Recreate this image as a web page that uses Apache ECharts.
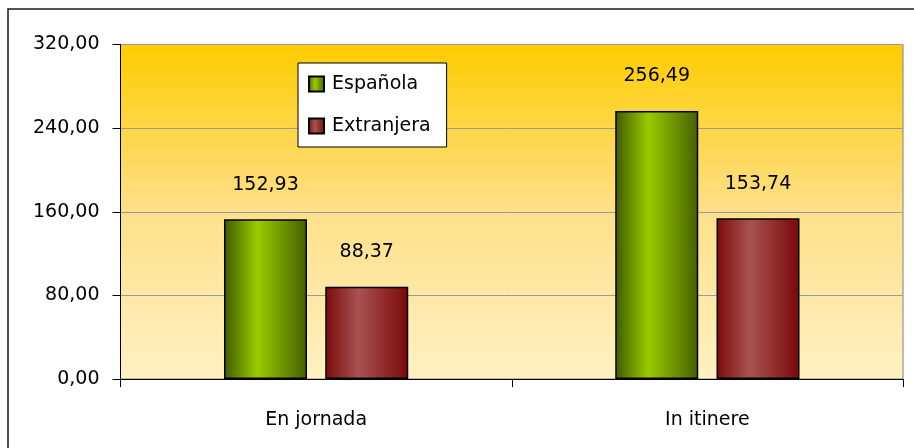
<!DOCTYPE html>
<html>
<head>
<meta charset="utf-8">
<script src="https://cdn.jsdelivr.net/npm/echarts@6/dist/echarts.min.js"></script>
<style>
  html, body { margin: 0; padding: 0; background: #fff; }
  #main { width: 914px; height: 448px; }
</style>
</head>
<body>
<div id="main"></div>
<script>
// datos del grafico
var categorias = ['En jornada', 'In itinere'];
var espanola = [152.93, 256.49];
var extranjera = [88.37, 153.74];
var nombres = ['Española', 'Extranjera'];

var fuente = 'DejaVu Sans';

// coma decimal
function fmt(v) {
  return Number(v).toFixed(2).replace('.', ',');
}

function degradado(borde, centro, borde2) {
  return new echarts.graphic.LinearGradient(0, 0, 1, 0, [
    { offset: 0, color: borde },
    { offset: 0.4, color: centro },
    { offset: 1, color: borde2 }
  ]);
}

var chart = echarts.init(document.getElementById('main'));

var etiqueta = {
  show: true,
  position: 'top',
  distance: 25,
  color: '#000',
  fontFamily: fuente,
  fontSize: 19,
  formatter: function (p) { return fmt(p.value); }
};

chart.setOption({
  animation: false,
  backgroundColor: '#fff',
  graphic: [{
    type: 'rect',
    shape: { x: 8, y: 9, width: 920, height: 460 },
    style: { fill: 'none', stroke: '#1a1a1a', lineWidth: 1.5 },
    z: 100
  }],
  grid: {
    left: 120.5, right: 11, top: 44.5, bottom: 69,
    show: true,
    borderColor: '#808080',
    borderWidth: 1,
    backgroundColor: new echarts.graphic.LinearGradient(0, 0, 0, 1, [
      { offset: 0, color: '#ffcc00' },
      { offset: 0.5, color: '#fee08a' },
      { offset: 1, color: '#fff1c2' }
    ])
  },
  legend: {
    orient: 'vertical',
    left: 298,
    top: 63,
    data: nombres,
    backgroundColor: '#fff',
    borderColor: '#000',
    borderWidth: 1,
    padding: [11, 16, 11, 10],
    itemWidth: 15,
    itemHeight: 15,
    itemGap: 22,
    icon: 'rect',
    textStyle: {
      fontFamily: fuente, fontSize: 19, color: '#000',
      lineHeight: 20, padding: [0, 0, 0, 3]
    }
  },
  xAxis: {
    type: 'category',
    data: categorias,
    axisLine: { lineStyle: { color: '#000', width: 1 } },
    axisTick: { show: true, length: 8, lineStyle: { color: '#000' } },
    axisLabel: { margin: 32, color: '#000', fontFamily: fuente, fontSize: 19 },
    splitLine: { show: false }
  },
  yAxis: {
    type: 'value',
    min: 0, max: 320, interval: 80,
    axisLine: { show: true, lineStyle: { color: '#000', width: 1 } },
    axisTick: { show: true, length: 8, lineStyle: { color: '#000' } },
    axisLabel: {
      margin: 21, color: '#000', fontFamily: fuente, fontSize: 19,
      formatter: function (v) { return fmt(v); }
    },
    splitLine: { show: true, lineStyle: { color: '#9a9a9a', width: 1 } }
  },
  series: [
    {
      name: nombres[0],
      type: 'bar',
      data: espanola,
      barWidth: 83,
      barGap: '22%',
      itemStyle: {
        color: degradado('#3f5a00', '#99cc00', '#455f00'),
        borderColor: '#000',
        borderWidth: 1.5
      },
      label: etiqueta
    },
    {
      name: nombres[1],
      type: 'bar',
      data: extranjera,
      barWidth: 83,
      itemStyle: {
        color: degradado('#7a0a0a', '#a85252', '#7a0808'),
        borderColor: '#000',
        borderWidth: 1.5
      },
      label: etiqueta
    }
  ]
});
</script>
</body>
</html>
